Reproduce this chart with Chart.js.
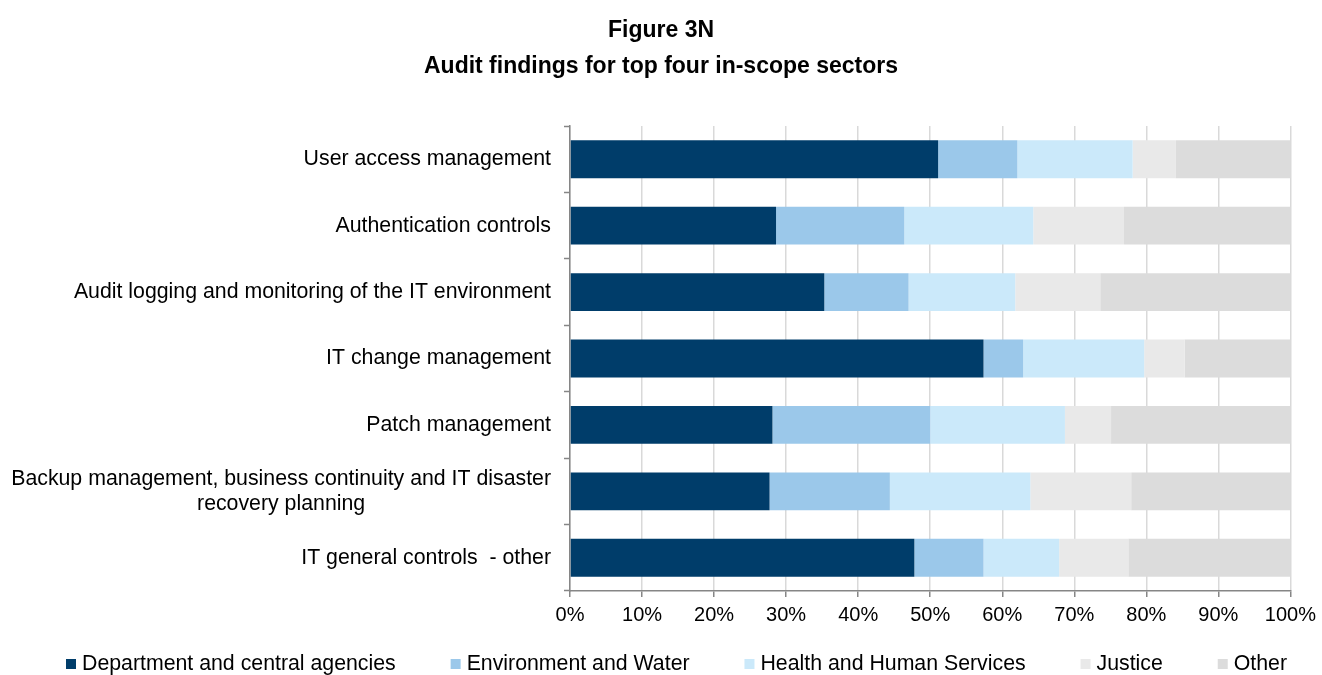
<!DOCTYPE html>
<html>
<head>
<meta charset="utf-8">
<title>Figure 3N</title>
<script src="https://cdn.jsdelivr.net/npm/chart.js@4.4.1/dist/chart.umd.min.js"></script>
<style>
  html, body { margin: 0; padding: 0; background: #ffffff; }
  #wrap { width: 1322px; height: 675px; }
</style>
</head>
<body>
<div id="wrap"><canvas id="chart" width="1322" height="675"></canvas></div>
<script>
// Categories (top to bottom) and the share of findings per sector, in percent
const categories = [
  'User access management',
  'Authentication controls',
  'Audit logging and monitoring of the IT environment',
  'IT change management',
  'Patch management',
  ['Backup management, business continuity and IT disaster', 'recovery planning'],
  'IT general controls  - other'
];
const seriesNames = [
  'Department and central agencies',
  'Environment and Water',
  'Health and Human Services',
  'Justice',
  'Other'
];
const deptCentral = [51.1, 28.6, 35.3, 57.4, 28.1, 27.7, 47.8];
const envWater    = [11.0, 17.8, 11.7,  5.5, 21.9, 16.7,  9.6];
const healthHuman = [16.0, 17.9, 14.8, 16.8, 18.7, 19.5, 10.5];
const justice     = [ 6.0, 12.6, 11.8,  5.6,  6.4, 14.0,  9.6];
const other       = [15.9, 23.1, 26.4, 14.7, 24.9, 22.1, 22.5];
const xTickLabels = ['0%', '10%', '20%', '30%', '40%', '50%', '60%', '70%', '80%', '90%', '100%'];

const seriesValues = [deptCentral, envWater, healthHuman, justice, other];
const seriesColors = ['#003D6A', '#9BC8EA', '#CBE9FA', '#E9E9E9', '#DCDCDC'];

const FONT = '"Liberation Sans", Arial, sans-serif';
const TEXT = '#000000';
const AXIS = '#868686';
const GRID = '#d9d9d9';
const LABEL_SIZE = 21.3;
const LABEL_LINE = 25;
const Y_TICK_LEN = 6;
const Y_LABEL_PAD = 13;
const SIDE_PAD = 30;

// Category labels: block right-aligned against the axis, wrapped lines centred
const categoryLabels = {
  id: 'categoryLabels',
  afterDraw(chart) {
    const ys = chart.scales.y;
    const ctx = chart.ctx;
    ctx.save();
    ctx.font = `${LABEL_SIZE}px ${FONT}`;
    ctx.fillStyle = TEXT;
    ctx.textAlign = 'center';
    ctx.textBaseline = 'middle';
    const right = ys.right - Y_TICK_LEN - Y_LABEL_PAD;
    chart.data.labels.forEach((lab, i) => {
      const lines = Array.isArray(lab) ? lab : [lab];
      const w = Math.max(...lines.map(l => ctx.measureText(l).width));
      const cx = right - w / 2;
      const cy = ys.getPixelForValue(i);
      lines.forEach((l, k) => {
        ctx.fillText(l, cx, cy + (k - (lines.length - 1) / 2) * LABEL_LINE);
      });
    });
    ctx.restore();
  }
};

// Legend row along the bottom, spread between two edges
const LEGEND_LEFT = 66, LEGEND_RIGHT = 1287, LEGEND_Y = 664, BOX = 10, BOX_GAP = 6;
const bottomLegend = {
  id: 'bottomLegend',
  afterDraw(chart) {
    const ctx = chart.ctx;
    ctx.save();
    ctx.font = `${LABEL_SIZE}px ${FONT}`;
    ctx.textAlign = 'left';
    ctx.textBaseline = 'middle';
    const items = chart.data.datasets.map(ds => ({
      text: ds.label,
      color: ds.backgroundColor,
      w: BOX + BOX_GAP + ctx.measureText(ds.label).width
    }));
    const total = items.reduce((s, it) => s + it.w, 0);
    const gap = (LEGEND_RIGHT - LEGEND_LEFT - total) / (items.length - 1);
    let x = LEGEND_LEFT;
    items.forEach(it => {
      ctx.fillStyle = it.color;
      ctx.fillRect(x, LEGEND_Y - BOX / 2, BOX, BOX);
      ctx.fillStyle = TEXT;
      ctx.fillText(it.text, x + BOX + BOX_GAP, LEGEND_Y);
      x += it.w + gap;
    });
    ctx.restore();
  }
};

new Chart(document.getElementById('chart'), {
  type: 'bar',
  data: {
    labels: categories,
    datasets: seriesNames.map((name, i) => ({
      label: name,
      data: seriesValues[i],
      backgroundColor: seriesColors[i],
      borderWidth: 0,
      categoryPercentage: 1,
      barPercentage: 0.57
    }))
  },
  options: {
    indexAxis: 'y',
    responsive: false,
    animation: false,
    layout: { padding: { left: SIDE_PAD, right: SIDE_PAD, top: 0, bottom: 0 } },
    plugins: {
      legend: { display: false },
      tooltip: { enabled: false },
      title: {
        display: true,
        text: ['Figure 3N', 'Audit findings for top four in-scope sectors'],
        color: TEXT,
        font: { family: FONT, size: 23, weight: 'bold', lineHeight: 36 / 23 },
        padding: { top: 13, bottom: 41 }
      }
    },
    scales: {
      x: {
        stacked: true,
        min: 0,
        max: 100,
        afterFit(scale) { scale.height = 84; },
        border: { display: true, color: AXIS, width: 1.5 },
        grid: {
          color: GRID,
          lineWidth: 1.5,
          drawTicks: true,
          tickLength: 6,
          tickColor: AXIS,
          tickWidth: 1.5
        },
        ticks: {
          stepSize: 10,
          padding: 6,
          color: TEXT,
          font: { family: FONT, size: 20 },
          maxRotation: 0,
          callback: (v) => xTickLabels[Math.round(v / 10)]
        }
      },
      y: {
        stacked: true,
        afterFit(scale) { scale.width = 570 - SIDE_PAD; },
        border: { display: true, color: AXIS, width: 1.5 },
        grid: {
          offset: true,
          drawOnChartArea: false,
          drawTicks: true,
          tickLength: Y_TICK_LEN,
          tickColor: AXIS,
          tickWidth: 1.5
        },
        ticks: { display: false }
      }
    }
  },
  plugins: [categoryLabels, bottomLegend]
});
</script>
</body>
</html>
